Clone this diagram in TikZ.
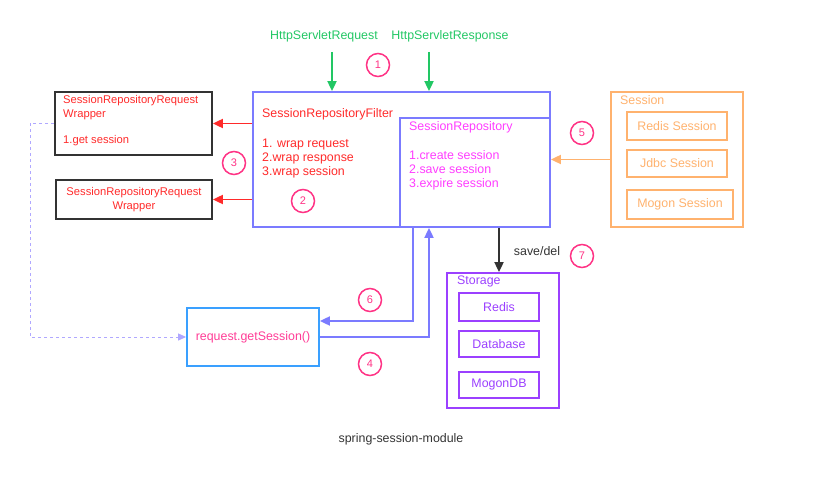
\documentclass[tikz,border=0pt]{standalone}
\usepackage{fontspec}
\setmainfont{Liberation Sans}
\usetikzlibrary{positioning,arrows.meta}

\definecolor{filterblue}{HTML}{7B7BFF}
\definecolor{wrapred}{HTML}{FF2A2A}
\definecolor{repomag}{HTML}{FF3CFF}
\definecolor{httpgreen}{HTML}{22C764}
\definecolor{sessorange}{HTML}{FFB26E}
\definecolor{storepurple}{HTML}{9B40FF}
\definecolor{getblue}{HTML}{3AA0FF}
\definecolor{getpink}{HTML}{FF3C96}
\definecolor{numpink}{HTML}{FF3385}
\definecolor{dashlav}{HTML}{B0A8FF}
\definecolor{darkgray}{HTML}{333333}

\begin{document}
\begin{tikzpicture}[x=1pt, y=-1pt, font=\fontsize{12.4}{14}\selectfont,
    box/.style={draw, line width=1.8pt, inner sep=0pt},
    txt/.style={inner sep=0pt, align=left, anchor=west},
    wraptxt/.style={text=wrapred, font=\fontsize{11.2}{14}\selectfont},
    numcirc/.style={circle, draw=numpink, text=numpink, line width=1.5pt,
        minimum size=23pt, inner sep=0pt, font=\fontsize{11}{12}\selectfont},
    arr/.style={line width=1.9pt, -{Triangle[length=10pt,width=9pt]}}]

\useasboundingbox (0,0) rectangle (818,494);

% filter and repository
\node[box, draw=filterblue, minimum width=297pt, minimum height=135pt] (filter) at (401.5,159.5) {};
\node[box, draw=filterblue, minimum width=150pt, minimum height=109pt] (repo) at (475,172.5) {};
\node[txt, text=wrapred] (filtertitle) at (262,114) {SessionRepositoryFilter};
\node[txt, text=wrapred, anchor=north west] (filterlist) at (262,138.5) {1. wrap request\\2.wrap response\\3.wrap session};
\node[txt, text=repomag] (repotitle) at (409,127) {SessionRepository};
\node[txt, text=repomag, anchor=north west] (repolist) at (409,150.5) {1.create session\\2.save session\\3.expire session};

% http input
\node[text=httpgreen, inner sep=0pt] (req) at (324,36) {HttpServletRequest};
\node[text=httpgreen, inner sep=0pt] (resp) at (450,36) {HttpServletResponse};
\coordinate (reqtop) at (332,52);
\coordinate (resptop) at (429,52);
\draw[arr, httpgreen] (reqtop) -- (reqtop |- filter.north);
\draw[arr, httpgreen] (resptop) -- (resptop |- filter.north);

% wrappers
\node[box, draw=darkgray, minimum width=157pt, minimum height=63pt] (wrapA) at (133.5,123.5) {};
\node[txt, wraptxt, anchor=north west] (wrapAtxt) at (63,95) {SessionRepositoryRequest\\Wrapper\\[12pt]1.get session};
\node[box, wraptxt, draw=darkgray, minimum width=156pt, minimum height=39pt, align=center] (wrapB) at (134,199.5) {SessionRepositoryRequest\\Wrapper};
\draw[arr, wrapred] (filter.west |- wrapA.east) -- (wrapA.east);
\draw[arr, wrapred] (filter.west |- wrapB.east) -- (wrapB.east);

% sessions
\node[box, draw=sessorange, minimum width=132pt, minimum height=135pt] (session) at (677,159.5) {};
\node[txt, text=sessorange] (sesstitle) at (620,100) {Session};
\node[box, draw=sessorange, text=sessorange, minimum width=100pt, minimum height=28pt] (redissess) at (677,126) {Redis Session};
\node[box, draw=sessorange, text=sessorange, minimum width=100pt, minimum height=27pt] (jdbcsess) at (677,163.5) {Jdbc Session};
\node[box, draw=sessorange, text=sessorange, minimum width=106pt, minimum height=29pt] (mogonsess) at (680,204.5) {Mogon Session};
\draw[arr, sessorange] (session.west) -- (filter.east);

% storage
\node[box, draw=storepurple, minimum width=112pt, minimum height=135pt] (storage) at (503,340.5) {};
\node[txt, text=storepurple] (storetitle) at (457,281) {Storage};
\node[box, draw=storepurple, text=storepurple, minimum width=80pt, minimum height=28pt] (stredis) at (499,307) {Redis};
\node[box, draw=storepurple, text=storepurple, minimum width=80pt, minimum height=26pt] (stdb) at (499,344) {Database};
\node[box, draw=storepurple, text=storepurple, minimum width=80pt, minimum height=26pt] (stmogon) at (499,385) {MogonDB};
\draw[arr, darkgray] (filter.south -| stredis) -- (storage.north -| stredis);
\node[text=darkgray, inner sep=0pt] (savedel) at (537,251) {save/del};

% getSession
\node[box, draw=getblue, text=getpink, minimum width=132pt, minimum height=58pt] (getsess) at (253,337) {request.getSession()};
\coordinate (c6) at (413,321);
\coordinate (c4) at (429,337);
\draw[arr, filterblue] (filter.south -| c6) -- (c6) -- (getsess.east |- c6);
\draw[arr, filterblue] (getsess.east) -- (c4) -- (filter.south -| c4);
\coordinate (dcorner) at (30,337);
\draw[dashlav, line width=1pt, dashed, -{Triangle[length=8pt,width=7pt]}] (wrapA.west) -| (dcorner) -- (getsess.west);

% step numbers
\node[numcirc] (n1) at (378,65) {1};
\node[numcirc] (n2) at (303,201) {2};
\node[numcirc] (n3) at (234,163) {3};
\node[numcirc] (n4) at (370,364) {4};
\node[numcirc] (n5) at (582,133) {5};
\node[numcirc] (n6) at (370,300) {6};
\node[numcirc] (n7) at (582,256) {7};

\node[text=darkgray, inner sep=0pt] (caption) at (401,439) {spring-session-module};

\end{tikzpicture}
\end{document}
